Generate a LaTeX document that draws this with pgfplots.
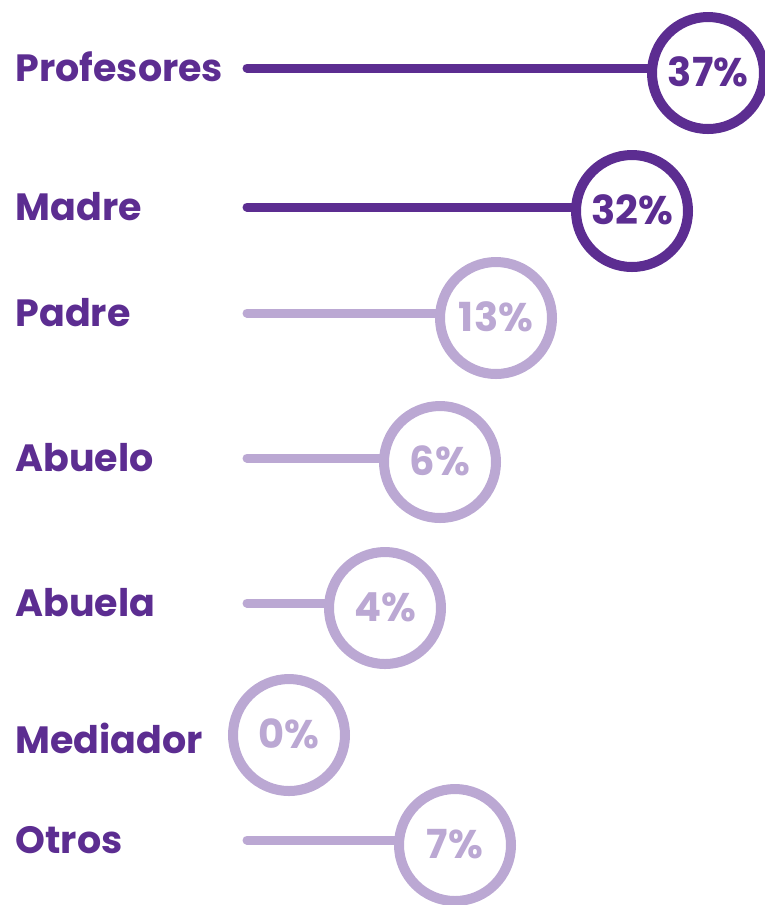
\documentclass[border=0pt]{standalone}
\usepackage{pgfplots}
\pgfplotsset{compat=1.18}
\usepackage{pgfplotstable}
\usepackage{fontspec}
\setmainfont{Poppins}
\definecolor{dark}{RGB}{92,45,145}
\definecolor{light}{RGB}{187,168,211}

% category labels (y = row position, 1 unit = 1 px of the reference)
\pgfplotstableread{
x y name
12 68 Profesores
12 207 Madre
12 313 Padre
12 458 Abuelo
12 603 Abuela
12 740 Mediador
12 840 Otros
}\labels

% stems: start x, y, length
\pgfplotstableread{
x y dx
247 68 461
247 207 423
}\darklines
\pgfplotstableread{
x y dx
247 313 249
247 458 193
247 603 138
247 840 208
}\lightlines

% circles: position and value in %
\pgfplotstableread{
x y val
708 73 37
632 211 32
}\darkpts
\pgfplotstableread{
x y val
496 318 13
440 462 6
385 608 4
289 735 0
455 845 7
}\lightpts

\begin{document}
\begin{tikzpicture}
\useasboundingbox (0,0) rectangle (765pt,-905pt);
\begin{axis}[
    at={(0,0)}, anchor=north west,
    scale only axis, width=765pt, height=905pt,
    xmin=0, xmax=765, ymin=0, ymax=905, y dir=reverse,
    hide axis, clip=false,
    /pgf/number format/assume math mode=true,
]
% labels
\addplot[draw=none, mark=none, nodes near coords, point meta=explicit symbolic,
    nodes near coords style={anchor=base west, text=dark, yshift=-13pt,
        font=\bfseries\fontsize{38}{42}\selectfont}]
    table[x=x, y=y, meta=name] {\labels};
% stems
\addplot[dark, line width=9pt, line cap=round, quiver={u=\thisrow{dx}, v=0}]
    table[x=x, y=y] {\darklines};
\addplot[light, line width=9pt, line cap=round, quiver={u=\thisrow{dx}, v=0}]
    table[x=x, y=y] {\lightlines};
% circles
\addplot[only marks, mark=*, mark size=56pt,
    mark options={fill=white, draw=dark, line width=10pt},
    nodes near coords={\pgfmathprintnumber{\pgfplotspointmeta}\%},
    point meta=explicit,
    nodes near coords style={anchor=base, text=dark, yshift=-13pt,
        font=\bfseries\fontsize{40}{44}\selectfont}]
    table[x=x, y=y, meta=val] {\darkpts};
\addplot[only marks, mark=*, mark size=56pt,
    mark options={fill=white, draw=light, line width=10pt},
    nodes near coords={\pgfmathprintnumber{\pgfplotspointmeta}\%},
    point meta=explicit,
    nodes near coords style={anchor=base, text=light, yshift=-13pt,
        font=\bfseries\fontsize{40}{44}\selectfont}]
    table[x=x, y=y, meta=val] {\lightpts};
\end{axis}
\end{tikzpicture}
\end{document}
